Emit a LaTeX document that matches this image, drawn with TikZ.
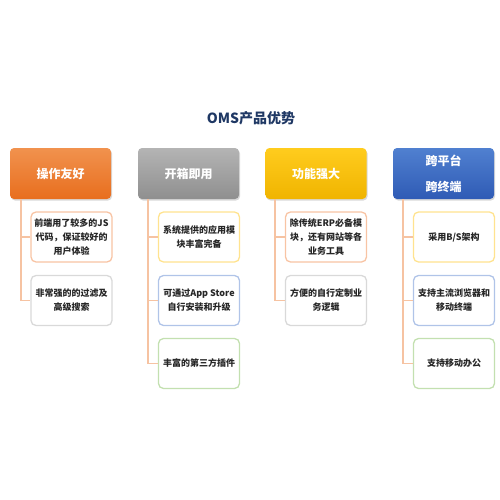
\documentclass[tikz,border=0pt]{standalone}
\usepackage{fontspec}
\setmainfont{Noto Sans CJK SC}
\usetikzlibrary{positioning, shadows}

\definecolor{titlec}{HTML}{1F3864}
\definecolor{linkc}{HTML}{F6C3A2}
\definecolor{txtc}{HTML}{262626}
\definecolor{bordO}{HTML}{F8C4A4}
\definecolor{bordG}{HTML}{D9D9D9}
\definecolor{bordY}{HTML}{FFE38F}
\definecolor{bordB}{HTML}{B0C4E8}
\definecolor{bordN}{HTML}{C3E0B0}

\begin{document}
\begin{tikzpicture}[
    x=1pt, y=-1pt,
    head/.style={rounded corners=4pt, minimum width=101pt, minimum height=51pt, text=white,
        align=center, font=\bfseries\fontsize{12}{26}\selectfont,
        drop shadow={opacity=0.3, shadow xshift=1pt, shadow yshift=-1.5pt}},
    item/.style={draw=#1, line width=1.3pt, rounded corners=5pt, fill=white, text=txtc,
        minimum width=81pt, minimum height=50pt, align=center,
        font=\bfseries\fontsize{9}{14}\selectfont},
    link/.style={draw=linkc, line width=1.5pt}
]
\useasboundingbox (0,0) rectangle (500,500);

\node[font=\bfseries\fontsize{14}{16}\selectfont, text=titlec] (title) at (251,118) {OMS产品优势};

% headers
\node[head, top color={rgb,255:red,241;green,146;blue,78}, bottom color={rgb,255:red,232;green,110;blue,30}] (h1) at (60.5,173.5) {操作友好};
\node[head, top color={rgb,255:red,180;green,180;blue,180}, bottom color={rgb,255:red,143;green,143;blue,143}] (h2) at (188.5,173.5) {开箱即用};
\node[head, top color={rgb,255:red,255;green,204;blue,30}, bottom color={rgb,255:red,240;green,180;blue,0}] (h3) at (316,173.5) {功能强大};
\node[head, top color={rgb,255:red,80;green,128;blue,208}, bottom color={rgb,255:red,47;green,91;blue,181}] (h4) at (443.5,173.5) {跨平台\\跨终端};

% items
\node[item=bordO] (a1) at (71.5,237) {前端用了较多的JS\\代码，保证较好的\\用户体验};
\node[item=bordG] (a2) at (71.5,300.5) {非常强的的过滤及\\高级搜索};

\node[item=bordY] (b1) at (199,237) {系统提供的应用模\\块丰富完备};
\node[item=bordB] (b2) at (199,300.5) {可通过App Store\\自行安装和升级};
\node[item=bordN] (b3) at (199,363.5) {丰富的第三方插件};

\node[item=bordO] (c1) at (326,237) {除传统ERP必备模\\块，还有网站等各\\业务工具};
\node[item=bordG] (c2) at (326,300.5) {方便的自行定制业\\务逻辑};

\node[item=bordY] (d1) at (454,237) {采用B/S架构};
\node[item=bordB] (d2) at (454,300.5) {支持主流浏览器和\\移动终端};
\node[item=bordN] (d3) at (454,363.5) {支持移动办公};

% trunks
\coordinate (t1) at (21,199);
\coordinate (t2) at (148,199);
\coordinate (t3) at (275,199);
\coordinate (t4) at (403,199);

\draw[link] (t1) |- (a2.west);
\draw[link] (a1.west) -| (t1);
\draw[link] (t2) |- (b3.west);
\foreach \n in {b1,b2} \draw[link] (\n.west) -| (t2);
\draw[link] (t3) |- (c2.west);
\draw[link] (c1.west) -| (t3);
\draw[link] (t4) |- (d3.west);
\foreach \n in {d1,d2} \draw[link] (\n.west) -| (t4);
\end{tikzpicture}
\end{document}
